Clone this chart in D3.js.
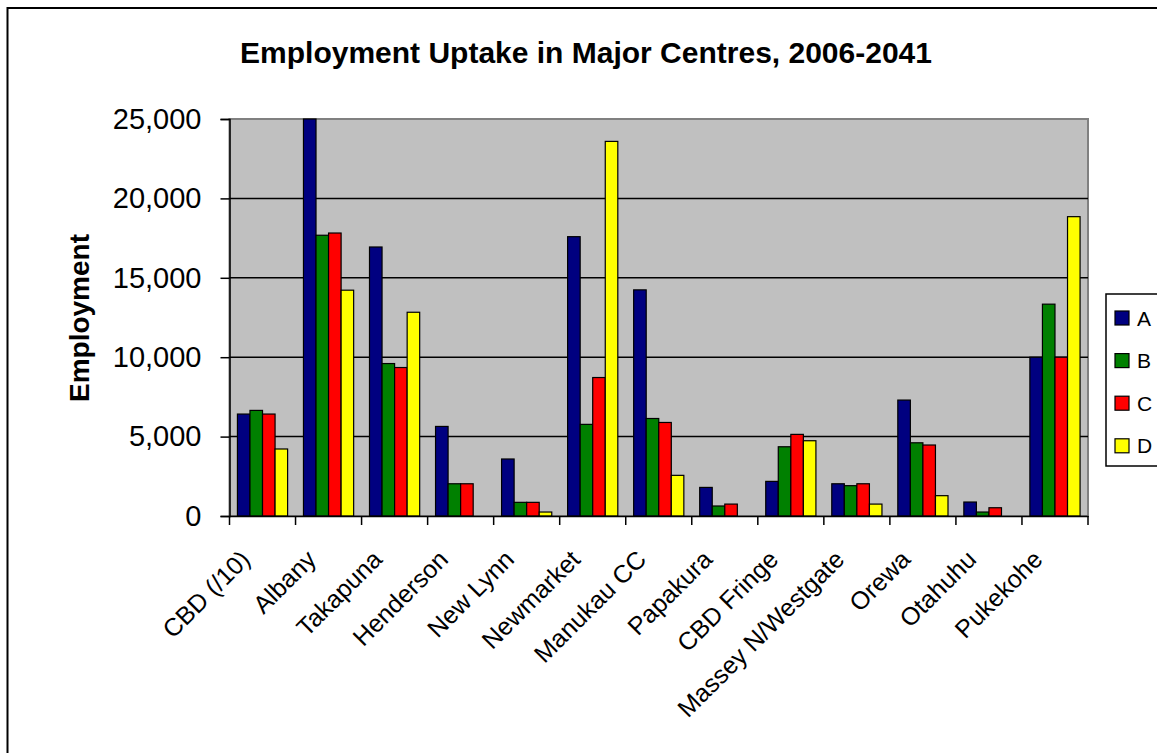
<!DOCTYPE html>
<html><head><meta charset="utf-8">
<script src="https://cdn.jsdelivr.net/npm/d3@7/dist/d3.min.js"></script>
<style>html,body{margin:0;padding:0;background:#fff;}svg{display:block;font-family:Arial,"Liberation Sans",sans-serif;}</style>
</head><body>
<script>
const categories = ["CBD (/10)","Albany","Takapuna","Henderson","New Lynn","Newmarket","Manukau CC","Papakura","CBD Fringe","Massey N/Westgate","Orewa","Otahuhu","Pukekohe"];
const seriesNames = ["A","B","C","D"];
const seriesColors = ["#000080","#008000","#FF0000","#FFFF00"];
const valuesA = [6420,25000,16940,5640,3590,17590,14240,1800,2180,2030,7300,880,10000];
const valuesB = [6650,17680,9600,2030,860,5770,6140,630,4360,1910,4610,250,13340];
const valuesC = [6420,17820,9350,2030,860,8720,5890,750,5140,2030,4470,520,10000];
const valuesD = [4220,14220,12830,0,250,23590,2560,0,4740,750,1280,0,18850];
const yTicks = [0,5000,10000,15000,20000,25000];
const titleText = "Employment Uptake in Major Centres, 2006-2041";
const yLabel = "Employment";

(function(){
const allSeries = [valuesA,valuesB,valuesC,valuesD];
const W = 1157, H = 753;
const svg = d3.select("body").append("svg").attr("width",W).attr("height",H);

// outer frame
svg.append("rect").attr("x",7.5).attr("y",8).attr("width",1200).attr("height",800)
  .attr("fill","#fff").attr("stroke","#000").attr("stroke-width",2);

const pL = 229.5, pR = 1088, pT = 119, pB = 516;
const x = d3.scaleBand().domain(categories).range([pL,pR]).padding(0);
const pad = x.bandwidth()*0.12;
const x1 = d3.scaleBand().domain(seriesNames).range([pad, x.bandwidth()-pad]).padding(0);
const y = d3.scaleLinear().domain([0,25000]).range([pB,pT]);

// plot area
svg.append("rect").attr("x",pL).attr("y",pT).attr("width",pR-pL).attr("height",pB-pT)
  .attr("fill","#C0C0C0").attr("stroke","#808080").attr("stroke-width",2);

// gridlines
svg.append("g").selectAll("line").data(yTicks.filter(d=>d>0 && d<25000)).join("line")
  .attr("x1",pL).attr("x2",pR).attr("y1",d=>y(d)).attr("y2",d=>y(d))
  .attr("stroke","#000").attr("stroke-width",1.5);

// bars
const g = svg.append("g");
categories.forEach((c,i)=>{
  seriesNames.forEach((s,j)=>{
    const v = allSeries[j][i];
    if (v<=0) return;
    g.append("rect").attr("x",x(c)+x1(s)).attr("y",y(v)).attr("width",x1.bandwidth()).attr("height",y(0)-y(v))
      .attr("fill",seriesColors[j]).attr("stroke","#000").attr("stroke-width",1.2);
  });
});

// y axis
const yAxis = d3.axisLeft(y).tickValues(yTicks).tickSize(9).tickPadding(19).tickFormat(d3.format(","));
const ya = svg.append("g").attr("transform",`translate(${pL},0)`).call(yAxis);
ya.select(".domain").attr("stroke","#000").attr("stroke-width",1.5);
ya.selectAll(".tick line").attr("stroke","#000").attr("stroke-width",1.5);
ya.selectAll("text").attr("font-size",29).attr("fill","#000").attr("font-family","Arial,'Liberation Sans',sans-serif");

// x axis
const xAxis = d3.axisBottom(x).tickSize(0).tickFormat("");
const xa = svg.append("g").attr("transform",`translate(0,${pB})`).call(xAxis);
xa.select(".domain").attr("stroke","#000").attr("stroke-width",1.5);
const bounds = categories.map(c=>x(c)).concat([pR]);
xa.selectAll(".bt").data(bounds).join("line").attr("class","bt")
  .attr("x1",d=>d).attr("x2",d=>d).attr("y1",0).attr("y2",9).attr("stroke","#000").attr("stroke-width",1.5);

svg.append("g").selectAll("text").data(categories).join("text")
  .attr("transform",d=>`translate(${x(d)+x.bandwidth()/2-11},561) rotate(-45)`)
  .attr("text-anchor","end").attr("font-size",25).attr("fill","#000").text(d=>d);

// title
svg.append("text").attr("x",586).attr("y",63).attr("text-anchor","middle")
  .attr("font-size",30).attr("font-weight","bold").text(titleText);

// y label
svg.append("text").attr("transform","translate(89,318) rotate(-90)").attr("text-anchor","middle")
  .attr("font-size",28).attr("font-weight","bold").text(yLabel);

// legend
const lg = svg.append("g");
lg.append("rect").attr("x",1106).attr("y",294).attr("width",80).attr("height",172)
  .attr("fill","#fff").attr("stroke","#000").attr("stroke-width",1.5);
seriesNames.forEach((s,j)=>{
  const yy = 311 + j*42.6;
  lg.append("rect").attr("x",1115).attr("y",yy).attr("width",14).attr("height",14)
    .attr("fill",seriesColors[j]).attr("stroke","#000").attr("stroke-width",1.2);
  lg.append("text").attr("x",1137).attr("y",yy+14.5).attr("font-size",21).text(s);
});
})();
</script>
</body></html>
